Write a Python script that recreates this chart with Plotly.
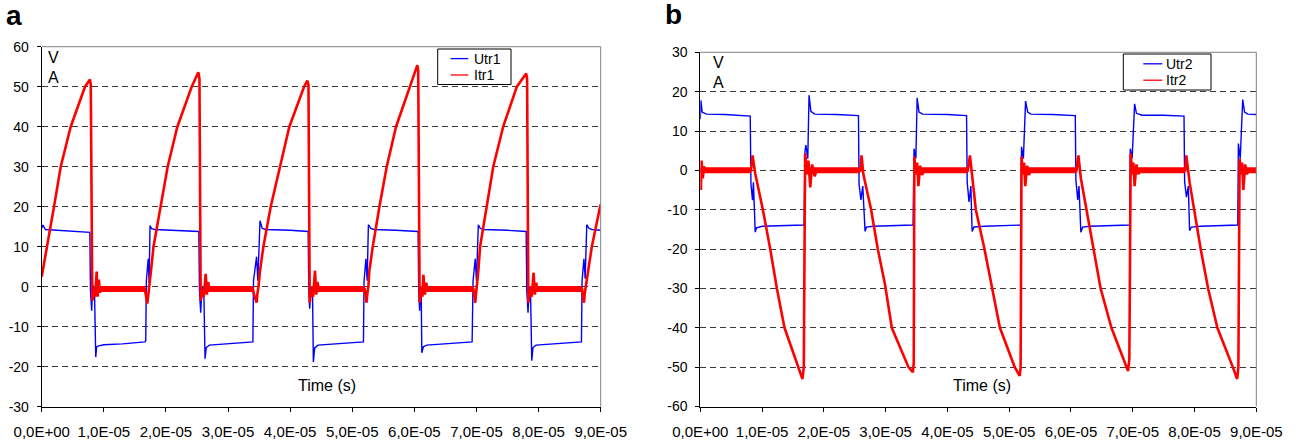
import plotly.graph_objects as go

# ---------------- axis tick labels ----------------
x_tick_vals = [0, 1e-5, 2e-5, 3e-5, 4e-5, 5e-5, 6e-5, 7e-5, 8e-5, 9e-5]
x_tick_text = ["0,0E+00", "1,0E-05", "2,0E-05", "3,0E-05", "4,0E-05",
               "5,0E-05", "6,0E-05", "7,0E-05", "8,0E-05", "9,0E-05"]
ya_ticks = [-30, -20, -10, 0, 10, 20, 30, 40, 50, 60]
ya_tick_text = ["-30", "-20", "-10", "0", "10", "20", "30", "40", "50", "60"]
yb_ticks = [-60, -50, -40, -30, -20, -10, 0, 10, 20, 30]
yb_tick_text = ["-60", "-50", "-40", "-30", "-20", "-10", "0", "10", "20", "30"]
US = 1e-6  # time arrays below are in microseconds

# ---------------- panel a : Utr1 (V) ----------------
utr1_t = [0.0, 0.2, 0.6, 3.0, 7.6, 7.75, 7.85, 8.05, 8.2, 8.5, 8.7, 8.85, 9.2, 10.0, 13.0, 16.6,
          16.75, 16.85, 17.15, 17.3, 17.44, 17.7, 18.2, 22.0, 25.3,
          25.4, 25.6, 25.8, 26.1, 26.3, 26.5, 27.0, 30.0, 34.0,
          34.1, 34.6, 34.8, 35.15, 35.5, 36.0, 40.0, 42.9,
          43.0, 43.15, 43.35, 43.6, 43.74, 43.95, 44.5, 48.0, 51.8,
          51.9, 52.2, 52.4, 52.6, 53.0, 53.5, 57.0, 60.6,
          60.7, 60.85, 61.0, 61.1, 61.2, 61.45, 62.0, 65.0, 69.3,
          69.45, 69.8, 70.0, 70.3, 70.6, 71.1, 75.0, 78.0,
          78.1, 78.3, 78.5, 78.7, 78.9, 79.1, 79.6, 83.0, 86.9,
          87.0, 87.3, 87.5, 87.76, 88.1, 88.6, 90.0]
utr1_v = [14.6, 15.4, 14.3, 14.1, 13.8, 13.6, -1.0, -6.0, 0.5, -1.0, -17.6, -15.0, -14.8, -14.5, -14.3, -13.8,
          -13.5, 1.5, 7.0, 1.0, 15.3, 14.5, 14.3, 14.1, 13.8,
          -1.0, -6.5, 0.0, -1.0, -18.0, -15.2, -14.6, -14.3, -13.8,
          1.5, 7.5, 1.5, 16.5, 14.6, 14.3, 14.1, 13.8,
          -1.0, -5.5, 0.0, -1.0, -18.8, -15.3, -14.6, -14.3, -13.8,
          1.5, 7.0, 1.5, 15.5, 14.6, 14.3, 14.1, 13.8,
          -1.0, -6.0, 0.0, -1.0, -16.5, -15.0, -14.6, -14.3, -13.8,
          1.5, 7.0, 1.5, 15.5, 14.6, 14.3, 14.1, 13.8,
          -1.0, -6.5, 0.0, -1.0, -18.5, -15.2, -14.6, -14.3, -13.8,
          1.5, 7.0, 2.0, 15.5, 14.6, 14.3, 14.1]

# ---------------- panel a : Itr1 (A) ----------------
itr1_t = [0.0, 0.8, 1.98, 3.06, 4.67, 6.97, 7.78, 7.9,
          8.15, 8.4, 8.6, 8.85, 9.0, 9.2, 9.4, 9.6, 10.0, 16.6, 16.8, 17.0, 17.2, 17.33,
          17.6, 18.0, 19.16, 20.28, 21.84, 24.15, 25.22, 25.4,
          25.6, 25.9, 26.1, 26.4, 26.6, 26.8, 27.0, 34.0, 34.2, 34.6, 34.75, 34.9,
          35.15, 35.69, 36.87, 38.37, 39.87, 42.24, 42.77, 42.95,
          43.15, 43.4, 43.7, 44.0, 44.2, 44.4, 44.6, 52.0, 52.1, 52.3, 52.45, 52.6,
          52.75, 53.3, 54.37, 55.55, 57.05, 59.3, 60.48, 60.62,
          60.85, 61.1, 61.3, 61.45, 61.7, 61.9, 62.1, 69.5, 69.6, 69.8, 69.95, 70.05,
          70.3, 70.58, 71.66, 72.7, 74.3, 76.5, 78.0, 78.15,
          78.35, 78.6, 78.9, 79.2, 79.4, 79.6, 79.8, 87.0, 87.1, 87.3, 87.45, 87.6,
          87.9, 88.57, 89.9, 90.0]
itr1_v = [2.5, 10, 20, 30, 40, 50, 51.8, 50.5,
          -3.5, -0.8, -2.5, 3.8, -2.5, 1.8, -1.5, -0.3, -0.6, -0.6, -2.0, -4.2, -1.5, 0.0,
          4.0, 10, 20, 30, 40, 50, 53.6, 52.0,
          -3.5, -0.8, -2.5, 3.2, -2.0, 1.2, -0.6, -0.6, -2.0, -4.0, -1.5, 0.0,
          4.0, 10, 20, 30, 40, 50, 51.5, 50.5,
          -4.0, -0.8, -2.5, 4.0, -2.0, 1.2, -0.6, -0.6, -2.0, -4.0, -1.5, 0.0,
          4.0, 10, 20, 30, 40, 50, 55.4, 54.0,
          -4.0, -0.8, -2.5, 3.0, -2.0, 1.0, -0.6, -0.6, -2.0, -4.0, -1.5, 0.0,
          4.0, 10, 20, 30, 40, 50, 53.3, 52.0,
          -4.0, -0.8, -2.5, 3.5, -2.0, 1.0, -0.6, -0.6, -2.0, -4.0, -1.5, 0.0,
          4.0, 10, 20, 20.5]
# noisy "off" band of Itr1
itr1_band_start = [8.4, 25.9, 43.4, 61.1, 78.6]
itr1_band_end = [16.7, 34.1, 52.0, 69.5, 87.0]
itr1_band_level = [-0.6, -0.6, -0.6, -0.6, -0.6]

# ---------------- panel b : Utr2 (V) ----------------
utr2_t = [0.0, 0.1, 0.3, 1.0, 4.0, 8.0,
          8.08, 8.2, 8.45, 8.6, 8.89, 9.1, 10.0, 16.7,
          16.8, 16.95, 17.1, 17.4, 17.6, 17.9, 18.5, 22.0, 25.6,
          25.7, 26.0, 26.3, 26.67, 26.9, 28.0, 34.4,
          34.45, 34.6, 34.9, 35.1, 35.4, 36.0, 40.0, 43.1,
          43.2, 43.5, 43.8, 44.0, 44.3, 46.0, 51.9,
          52.0, 52.3, 52.65, 53.0, 53.5, 57.0, 60.7,
          60.8, 61.1, 61.3, 61.6, 61.9, 63.0, 69.5,
          69.6, 69.9, 70.3, 70.6, 71.5, 75.0, 78.3,
          78.4, 78.7, 79.0, 79.2, 79.5, 81.0, 87.0,
          87.1, 87.4, 87.8, 88.1, 88.6, 90.0]
utr2_v = [13.0, 17.8, 14.8, 14.3, 14.2, 13.9,
          13.8, -3.4, -7.6, -3.0, -15.7, -14.6, -14.2, -13.9,
          -13.5, 5.0, 6.4, 3.0, 19.1, 15.0, 14.3, 14.2, 13.9,
          -3.5, -7.5, -4.0, -15.5, -14.4, -14.2, -13.9,
          -13.5, 5.5, 3.0, 18.4, 14.8, 14.3, 14.2, 13.9,
          -3.0, -8.0, -4.0, -15.5, -14.4, -14.2, -13.9,
          6.0, 3.0, 17.6, 14.8, 14.3, 14.2, 13.9,
          -2.5, -7.5, -4.0, -15.7, -14.4, -14.2, -13.9,
          5.5, 3.0, 16.9, 14.5, 14.0, 14.0, 13.8,
          -3.0, -6.8, -4.0, -15.3, -14.4, -14.2, -13.9,
          6.8, 3.0, 18.0, 14.8, 14.3, 14.2]

# ---------------- panel b : Itr2 (A) ----------------
itr2_t = [0.0, 0.1, 0.2, 0.4, 0.6, 0.8, 8.2, 8.46, 8.89, 10.13, 11.32, 12.4, 13.63, 15.79, 16.54, 16.75,
          16.97, 17.3, 17.5, 17.8, 18.1, 18.5, 18.9, 25.9, 26.1, 26.4, 27.65, 28.73, 29.9, 31.0, 33.7, 34.4, 34.55,
          34.65, 34.9, 35.1, 35.3, 35.6, 35.9, 36.2, 43.3, 43.65, 44.2, 44.6, 46.0, 47.25, 48.5, 50.9, 51.7, 51.85,
          52.0, 52.2, 52.4, 52.6, 52.9, 53.2, 53.5, 60.9, 61.2, 61.6, 62.5, 63.6, 64.8, 66.55, 69.0, 69.24, 69.45,
          69.67, 69.9, 70.1, 70.3, 70.6, 70.9, 71.2, 78.5, 78.67, 79.2, 79.9, 81.0, 82.2, 83.7, 86.2, 86.9, 87.1,
          87.3, 87.5, 87.7, 87.9, 88.2, 88.5, 88.8, 90.0]
itr2_v = [0.0, -5.0, 2.5, -2.0, 1.0, 0.0, 0.0, 3.8, -0.8, -10, -20, -30, -40, -50, -53.0, -50.0,
          4.3, -1.0, 2.5, -4.3, 1.5, -1.5, 0.0, 0.0, 3.8, -1.0, -10, -20, -29, -40, -50, -51.3, -49.0,
          3.5, -1.0, 2.0, -4.0, 1.2, -1.2, 0.0, 0.0, 3.8, -4.7, -10, -20, -30, -40, -50, -52.2, -50.0,
          3.5, -1.0, 2.0, -4.0, 1.2, -1.2, 0.0, 0.0, 3.8, -2.0, -10, -20, -30, -40, -50, -51.0, -48.0,
          4.3, -1.0, 2.0, -4.0, 1.5, -1.0, 0.0, 0.0, 3.8, -3.0, -10, -20, -30, -40, -50, -53.0, -50.0,
          3.0, -1.0, 2.0, -5.0, 1.5, -1.0, 0.0, 0.0]
itr2_band_start = [0.0, 17.3, 35.0, 52.3, 70.0, 87.6]
itr2_band_end = [8.2, 25.9, 43.3, 60.9, 78.5, 90.0]
itr2_band_level = [0.0, 0.0, 0.0, 0.0, 0.0, 0.0]

BLUE = "#0000FF"
RED = "#FF0000"
FONT = "Liberation Sans"


def band_xy(starts, ends, levels):
    xs, ys = [], []
    for s, e, l in zip(starts, ends, levels):
        xs += [s * US, e * US, None]
        ys += [l, l, None]
    return xs, ys


fig = go.Figure()


def add_panel(xa, ya, u_name, u_t, u_v, i_name, i_t, i_v, b_s, b_e, b_l):
    fig.add_trace(go.Scatter(x=[t * US for t in u_t], y=u_v, mode="lines", name=u_name,
                             line=dict(color=BLUE, width=1.4), xaxis=xa, yaxis=ya))
    bx, by = band_xy(b_s, b_e, b_l)
    fig.add_trace(go.Scatter(x=bx, y=by, mode="lines", name=i_name, hoverinfo="skip",
                             line=dict(color=RED, width=6), xaxis=xa, yaxis=ya))
    fig.add_trace(go.Scatter(x=[t * US for t in i_t], y=i_v, mode="lines", name=i_name,
                             line=dict(color=RED, width=2.6), xaxis=xa, yaxis=ya))


add_panel("x", "y", "Utr1", utr1_t, utr1_v, "Itr1", itr1_t, itr1_v,
          itr1_band_start, itr1_band_end, itr1_band_level)
add_panel("x2", "y2", "Utr2", utr2_t, utr2_v, "Itr2", itr2_t, itr2_v,
          itr2_band_start, itr2_band_end, itr2_band_level)

W, H = 1301, 444


def px_x(p):
    return p / W


def px_y(p):
    return (H - p) / H


xcommon = dict(range=[0, 9e-5], tickvals=x_tick_vals, ticktext=x_tick_text, showgrid=False,
               zeroline=False, showline=True, linecolor="black", linewidth=1, ticks="outside",
               ticklen=4, tickcolor="black", ticklabelstandoff=7, automargin=False,
               tickfont=dict(family=FONT, size=15, color="black"), fixedrange=True)
ycommon = dict(showgrid=True, gridcolor="#3a3a3a", griddash="6px,4px", gridwidth=1,
               zeroline=False, showline=True, linecolor="black", linewidth=1, ticks="outside",
               ticklen=4, tickcolor="black", ticklabelstandoff=5, automargin=False,
               tickfont=dict(family=FONT, size=14, color="black"), fixedrange=True)

fig.update_layout(
    template="none",
    width=W, height=H, autosize=False,
    margin=dict(l=0, r=0, t=0, b=0, pad=0),
    paper_bgcolor="white", plot_bgcolor="white",
    font=dict(family=FONT, size=14, color="black"),
    showlegend=False,
    xaxis=dict(domain=[px_x(41.7), px_x(600.7)], anchor="y", **xcommon),
    yaxis=dict(domain=[px_y(406.7), px_y(46.7)], anchor="x", range=[-30, 60], tickvals=ya_ticks,
               ticktext=ya_tick_text, **ycommon),
    xaxis2=dict(domain=[px_x(700.3), px_x(1256.3)], anchor="y2", **xcommon),
    yaxis2=dict(domain=[px_y(406.5), px_y(52.3)], anchor="x2", range=[-60, 30], tickvals=yb_ticks,
                ticktext=yb_tick_text, **ycommon),
)

# frame (top and right borders)
for xr, yr in (("x domain", "y domain"), ("x2 domain", "y2 domain")):
    fig.add_shape(type="line", xref=xr, yref=yr, x0=1, x1=1, y0=0, y1=1,
                  line=dict(color="#808080", width=1))
    fig.add_shape(type="line", xref=xr, yref=yr, x0=0, x1=1, y0=1, y1=1,
                  line=dict(color="#808080", width=1), layer="below")

# Excel-style legend boxes (compact rows, as in the original)
legends = [
    dict(box=(437.7, 49, 511, 84.5), sx=(450.7, 468.3), tx=471.7, rows=(58.6, 75.0), labels=("Utr1", "Itr1")),
    dict(box=(1123.3, 54, 1211, 90), sx=(1143.3, 1162.3), tx=1164.3, rows=(63.8, 80.2), labels=("Utr2", "Itr2")),
]
for lg in legends:
    x0, y0, x1, y1 = lg["box"]
    fig.add_shape(type="rect", xref="paper", yref="paper", x0=px_x(x0), x1=px_x(x1),
                  y0=px_y(y1), y1=px_y(y0), line=dict(color="black", width=1), fillcolor="white",
                  layer="above")
    for color, ry, lab in zip((BLUE, RED), lg["rows"], lg["labels"]):
        fig.add_shape(type="line", xref="paper", yref="paper", x0=px_x(lg["sx"][0]), x1=px_x(lg["sx"][1]),
                      y0=px_y(ry), y1=px_y(ry), line=dict(color=color, width=1.3), layer="above")
        fig.add_annotation(xref="paper", yref="paper", x=px_x(lg["tx"]), y=px_y(ry), text=lab,
                           showarrow=False, xanchor="left", yanchor="middle",
                           font=dict(family=FONT, size=14, color="black"))

ann_font = dict(family=FONT, size=16, color="black")
annotations = [
    dict(text="<b>a</b>", x=px_x(14), y=px_y(16), font=dict(family=FONT, size=28, color="black")),
    dict(text="<b>b</b>", x=px_x(673), y=px_y(14.5), font=dict(family=FONT, size=28, color="black")),
    dict(text="V", x=px_x(53), y=px_y(57), font=ann_font),
    dict(text="A", x=px_x(53), y=px_y(77.5), font=ann_font),
    dict(text="V", x=px_x(718), y=px_y(62.5), font=ann_font),
    dict(text="A", x=px_x(718), y=px_y(83), font=ann_font),
    dict(text="Time (s)", x=px_x(327), y=px_y(385), font=ann_font),
    dict(text="Time (s)", x=px_x(982), y=px_y(385), font=ann_font),
]
for a in annotations:
    fig.add_annotation(xref="paper", yref="paper", showarrow=False,
                       xanchor="center", yanchor="middle", **a)

# remove the browser's default 8px body margin so the figure fills the window exactly
fig.write_html("out.html", config={"displayModeBar": False},
               post_script="document.body.style.margin='0px';")
